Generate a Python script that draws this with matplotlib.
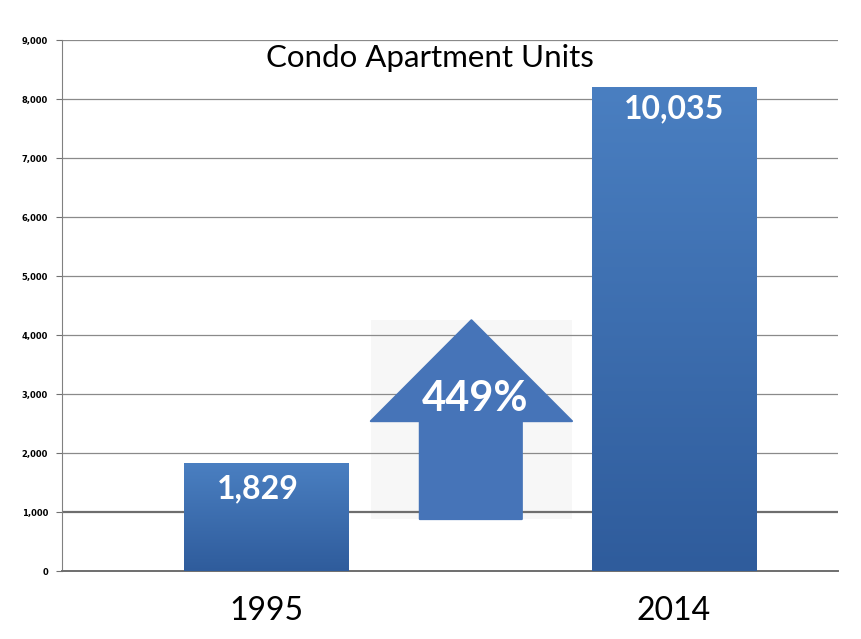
import matplotlib
matplotlib.use("Agg")
import matplotlib.pyplot as plt
import numpy as np
from matplotlib.patches import Polygon, Rectangle
from matplotlib.colors import LinearSegmentedColormap

categories = ["1995", "2014"]
bar_heights = [1829, 8200]
bar_labels = ["1,829", "10,035"]
title = "Condo Apartment Units"
growth_label = "449%"
yticks = list(range(0, 9001, 1000))
# arrow geometry in data coords (x in category units, y in data units)
arrow_shaft = (0.377, 0.627, 880)
arrow_head = (0.257, 0.750, 2540, 4250)

fig = plt.figure(figsize=(8.62, 6.39), dpi=100)
ax = fig.add_axes([0.0719, 0.1064, 0.9003, 0.831])
x = np.arange(len(categories))
ax.set_xlim(-0.5, 1.402)
ax.set_ylim(0, 9000)

ax.set_yticks(yticks)
ax.set_yticklabels([f"{v:,}" for v in yticks], fontsize=6, fontweight="bold",
                   family="DejaVu Sans")
ax.tick_params(axis="y", length=4, color="#707070", pad=6)
ax.set_xticks(x)
ax.set_xticklabels(categories, fontsize=23, family="Lato")
ax.tick_params(axis="x", length=0, pad=18)

for v in yticks:
    if v == 0:
        continue
    lw = 1.6 if v == 1000 else 0.9
    col = "#6e6e6e" if v == 1000 else "#8a8a8a"
    ax.axhline(v, color=col, lw=lw, zorder=1)

for s in ["top", "right"]:
    ax.spines[s].set_visible(False)
ax.spines["left"].set_color("#808080")
ax.spines["bottom"].set_color("#6e6e6e")
ax.spines["bottom"].set_linewidth(1.4)

cmap = LinearSegmentedColormap.from_list("g", ["#2f5c9c", "#4a7fc1"])
grad = np.linspace(0, 1, 256).reshape(-1, 1)
w = 0.404
label_dx = [-0.02, 0.0]
label_dy = [-190, -125]
for xi, h, lab, dx, dy in zip(x, bar_heights, bar_labels, label_dx, label_dy):
    rect = Rectangle((xi - w / 2, 0), w, h, facecolor="none", edgecolor="none", zorder=3)
    ax.add_patch(rect)
    im = ax.imshow(grad, extent=(xi - w / 2, xi + w / 2, 0, h), origin="lower",
                   cmap=cmap, aspect="auto", zorder=3)
    im.set_clip_path(rect)
    ax.text(xi + dx, h + dy, lab, ha="center", va="top", color="white",
            fontsize=23, fontweight="bold", family="Lato", zorder=5)

# textured background behind arrow
ax.add_patch(Rectangle((arrow_head[0], arrow_shaft[2]), arrow_head[1] - arrow_head[0],
                       arrow_head[3] - arrow_shaft[2], facecolor="#f3f3f3",
                       alpha=0.6, edgecolor="none", zorder=0.5))
sx0, sx1, sy0 = arrow_shaft
hx0, hx1, hy, ty = arrow_head
pts = [(sx0, sy0), (sx1, sy0), (sx1, hy), (hx1, hy), ((hx0 + hx1) / 2, ty),
       (hx0, hy), (sx0, hy)]
ax.add_patch(Polygon(pts, closed=True, facecolor="#4674b8", edgecolor="#4674b8",
                     joinstyle="round", lw=1.5, zorder=4))
ax.text((hx0 + hx1) / 2 + 0.008, 2920, growth_label, ha="center", va="center",
        color="white", fontsize=30, fontweight="bold", family="Lato", zorder=5)

ax.text(0.474, 0.967, title, transform=ax.transAxes, ha="center", va="center",
        fontsize=22.5, family="Lato", zorder=6)

fig.savefig("out.png", dpi=100)
